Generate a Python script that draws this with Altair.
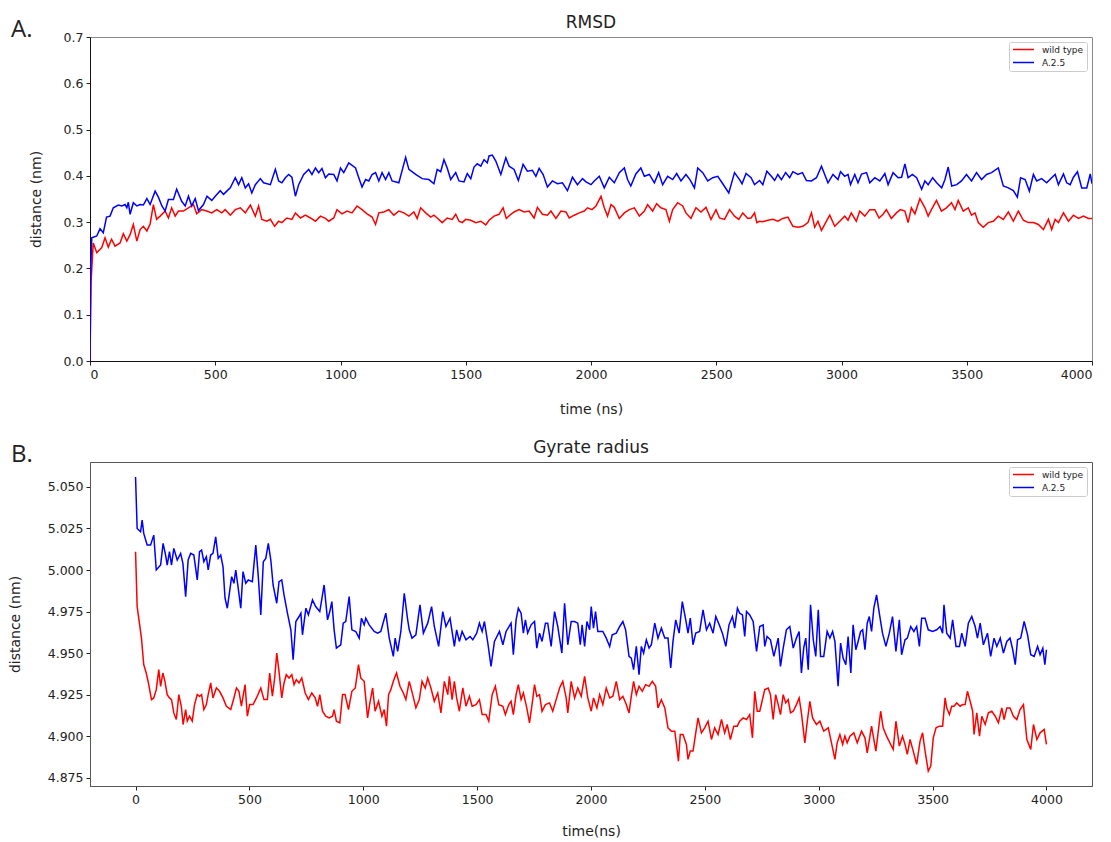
import altair as alt
import pandas as pd

SERIES = ["wild type", "A.2.5"]
COLORS = ["#ff0000", "#0000ff"]
PANEL_LABELS = ["A.", "B."]
PANEL_TITLES = ["RMSD", "Gyrate radius"]
X_TITLES = ["time (ns)", "time(ns)"]
Y_TITLE = "distance (nm)"
X_TICKS = [0, 500, 1000, 1500, 2000, 2500, 3000, 3500, 4000]
A_Y_TICKS = [0.0, 0.1, 0.2, 0.3, 0.4, 0.5, 0.6, 0.7]
B_Y_TICKS = [4.875, 4.900, 4.925, 4.950, 4.975, 5.000, 5.025, 5.050]

# RMSD, wild type: (time ns, distance nm)
RMSD_WT = [
    (0, 0.0), (4, 0.17), (13, 0.255), (27, 0.234), (47, 0.245), (60, 0.266), (73, 0.246), (86, 0.263),
    (100, 0.248), (120, 0.255), (133, 0.275), (147, 0.259), (160, 0.273), (173, 0.295), (187, 0.259),
    (200, 0.284), (213, 0.291), (227, 0.281), (240, 0.296), (253, 0.338), (266, 0.306), (280, 0.313),
    (300, 0.324), (313, 0.309), (326, 0.331), (340, 0.313), (353, 0.324), (373, 0.324), (393, 0.331),
    (413, 0.338), (426, 0.318), (446, 0.327), (466, 0.324), (486, 0.320), (506, 0.327), (526, 0.320),
    (540, 0.327), (560, 0.315), (580, 0.327), (600, 0.331), (620, 0.320), (640, 0.337), (660, 0.313),
    (673, 0.335), (686, 0.306), (706, 0.302), (720, 0.306), (737, 0.291), (753, 0.302), (766, 0.299),
    (786, 0.309), (806, 0.306), (820, 0.320), (840, 0.309), (860, 0.315), (880, 0.309), (900, 0.302),
    (920, 0.313), (940, 0.308), (953, 0.302), (973, 0.309), (986, 0.327), (1006, 0.318), (1026, 0.324),
    (1046, 0.320), (1066, 0.335), (1086, 0.327), (1106, 0.318), (1126, 0.311), (1140, 0.295),
    (1153, 0.320), (1173, 0.322), (1193, 0.327), (1213, 0.315), (1233, 0.324), (1253, 0.320),
    (1273, 0.313), (1293, 0.322), (1306, 0.308), (1320, 0.331), (1340, 0.320), (1360, 0.311),
    (1373, 0.315), (1386, 0.309), (1406, 0.299), (1426, 0.309), (1446, 0.306), (1460, 0.317),
    (1473, 0.302), (1486, 0.299), (1500, 0.306), (1520, 0.304), (1540, 0.299), (1560, 0.302),
    (1580, 0.294), (1593, 0.304), (1613, 0.313), (1633, 0.317), (1649, 0.331), (1662, 0.308),
    (1680, 0.317), (1693, 0.322), (1713, 0.327), (1733, 0.322), (1753, 0.324), (1773, 0.309),
    (1786, 0.332), (1806, 0.317), (1826, 0.315), (1840, 0.324), (1860, 0.308), (1880, 0.324),
    (1900, 0.322), (1913, 0.309), (1933, 0.315), (1953, 0.320), (1973, 0.324), (1986, 0.331),
    (2004, 0.327), (2020, 0.335), (2040, 0.356), (2053, 0.331), (2066, 0.313), (2080, 0.338),
    (2093, 0.332), (2113, 0.308), (2133, 0.320), (2153, 0.327), (2173, 0.331), (2193, 0.313),
    (2213, 0.324), (2226, 0.338), (2246, 0.324), (2262, 0.340), (2279, 0.331), (2299, 0.327),
    (2313, 0.302), (2326, 0.327), (2346, 0.342), (2366, 0.335), (2379, 0.320), (2399, 0.308),
    (2419, 0.331), (2439, 0.322), (2459, 0.332), (2479, 0.306), (2499, 0.327), (2513, 0.309),
    (2533, 0.306), (2553, 0.327), (2573, 0.313), (2590, 0.306), (2606, 0.320), (2626, 0.308),
    (2639, 0.309), (2653, 0.320), (2662, 0.299), (2673, 0.302), (2686, 0.301), (2706, 0.304),
    (2726, 0.306), (2746, 0.302), (2766, 0.308), (2786, 0.311), (2806, 0.291), (2826, 0.289),
    (2846, 0.291), (2866, 0.299), (2880, 0.320), (2893, 0.289), (2906, 0.302), (2920, 0.282),
    (2940, 0.302), (2953, 0.315), (2973, 0.291), (2993, 0.302), (3013, 0.313), (3026, 0.304),
    (3039, 0.320), (3059, 0.302), (3073, 0.324), (3093, 0.313), (3113, 0.327), (3133, 0.327),
    (3150, 0.309), (3166, 0.317), (3179, 0.327), (3199, 0.308), (3219, 0.320), (3235, 0.327),
    (3253, 0.324), (3266, 0.299), (3279, 0.331), (3293, 0.318), (3313, 0.351), (3333, 0.331),
    (3346, 0.313), (3359, 0.327), (3379, 0.347), (3399, 0.324), (3419, 0.331), (3439, 0.342),
    (3453, 0.327), (3466, 0.347), (3486, 0.324), (3506, 0.331), (3519, 0.315), (3533, 0.320),
    (3546, 0.299), (3566, 0.289), (3586, 0.299), (3606, 0.302), (3626, 0.313), (3646, 0.306),
    (3666, 0.322), (3686, 0.302), (3706, 0.324), (3726, 0.304), (3746, 0.299), (3766, 0.299),
    (3786, 0.295), (3806, 0.284), (3826, 0.306), (3839, 0.284), (3853, 0.306), (3866, 0.299),
    (3886, 0.320), (3906, 0.302), (3926, 0.315), (3946, 0.308), (3966, 0.313), (3986, 0.308),
    (4000, 0.308),
]

# RMSD, A.2.5
RMSD_MUT = [
    (0, 0.0), (3, 0.20), (7, 0.266), (27, 0.270), (40, 0.286), (53, 0.277), (66, 0.311), (80, 0.313),
    (93, 0.331), (113, 0.337), (127, 0.335), (140, 0.338), (147, 0.331), (153, 0.343), (160, 0.317),
    (173, 0.342), (187, 0.335), (200, 0.338), (213, 0.337), (227, 0.351), (240, 0.338), (260, 0.367),
    (273, 0.354), (287, 0.335), (300, 0.324), (313, 0.349), (333, 0.349), (346, 0.371), (366, 0.345),
    (380, 0.335), (393, 0.356), (406, 0.335), (420, 0.351), (433, 0.325), (453, 0.338), (467, 0.356),
    (486, 0.347), (500, 0.356), (520, 0.368), (533, 0.360), (546, 0.367), (560, 0.374), (580, 0.396),
    (593, 0.381), (606, 0.396), (620, 0.374), (633, 0.383), (646, 0.363), (660, 0.381), (680, 0.394),
    (693, 0.385), (720, 0.381), (740, 0.414), (753, 0.389), (766, 0.385), (780, 0.396), (793, 0.403),
    (806, 0.397), (820, 0.356), (833, 0.381), (853, 0.403), (873, 0.414), (886, 0.403), (900, 0.417),
    (913, 0.407), (926, 0.416), (940, 0.396), (953, 0.404), (973, 0.403), (986, 0.389), (1000, 0.417),
    (1013, 0.407), (1033, 0.428), (1060, 0.417), (1073, 0.396), (1086, 0.376), (1100, 0.392),
    (1113, 0.389), (1126, 0.403), (1140, 0.407), (1153, 0.389), (1166, 0.407), (1180, 0.392),
    (1193, 0.407), (1206, 0.389), (1233, 0.385), (1260, 0.440), (1273, 0.414), (1300, 0.403),
    (1326, 0.394), (1353, 0.392), (1373, 0.383), (1386, 0.414), (1400, 0.409), (1413, 0.435),
    (1426, 0.417), (1440, 0.392), (1460, 0.407), (1473, 0.389), (1493, 0.387), (1506, 0.405),
    (1520, 0.394), (1533, 0.419), (1546, 0.426), (1560, 0.421), (1573, 0.435), (1586, 0.428),
    (1593, 0.443), (1606, 0.445), (1620, 0.432), (1640, 0.403), (1660, 0.439), (1673, 0.421),
    (1693, 0.414), (1710, 0.390), (1729, 0.425), (1746, 0.410), (1766, 0.412), (1780, 0.399),
    (1793, 0.416), (1809, 0.403), (1826, 0.376), (1846, 0.389), (1866, 0.383), (1886, 0.385),
    (1906, 0.368), (1926, 0.397), (1946, 0.381), (1966, 0.394), (1980, 0.387), (2000, 0.381),
    (2013, 0.389), (2033, 0.399), (2053, 0.374), (2073, 0.397), (2093, 0.385), (2113, 0.407),
    (2133, 0.417), (2146, 0.392), (2159, 0.378), (2179, 0.404), (2199, 0.417), (2213, 0.399),
    (2233, 0.403), (2253, 0.385), (2270, 0.407), (2286, 0.381), (2306, 0.399), (2326, 0.392),
    (2342, 0.405), (2359, 0.389), (2379, 0.403), (2395, 0.392), (2413, 0.374), (2426, 0.417),
    (2446, 0.407), (2466, 0.389), (2486, 0.396), (2506, 0.399), (2526, 0.383), (2550, 0.363),
    (2573, 0.407), (2593, 0.392), (2603, 0.383), (2619, 0.405), (2639, 0.396), (2653, 0.381),
    (2673, 0.390), (2686, 0.381), (2702, 0.410), (2720, 0.399), (2733, 0.390), (2746, 0.403),
    (2760, 0.392), (2777, 0.407), (2793, 0.396), (2806, 0.409), (2826, 0.403), (2844, 0.407),
    (2860, 0.390), (2880, 0.389), (2900, 0.396), (2920, 0.421), (2933, 0.403), (2946, 0.385),
    (2966, 0.403), (2986, 0.392), (2996, 0.409), (3013, 0.399), (3026, 0.403), (3036, 0.381),
    (3053, 0.403), (3066, 0.385), (3080, 0.404), (3100, 0.407), (3113, 0.385), (3133, 0.396),
    (3153, 0.389), (3173, 0.405), (3186, 0.381), (3206, 0.407), (3226, 0.396), (3240, 0.397),
    (3253, 0.426), (3266, 0.396), (3283, 0.403), (3300, 0.396), (3320, 0.371), (3333, 0.389),
    (3346, 0.381), (3364, 0.396), (3380, 0.385), (3400, 0.374), (3413, 0.392), (3426, 0.419),
    (3440, 0.378), (3460, 0.381), (3479, 0.389), (3499, 0.403), (3519, 0.389), (3539, 0.407),
    (3559, 0.392), (3579, 0.403), (3599, 0.407), (3626, 0.417), (3646, 0.378), (3666, 0.374),
    (3686, 0.368), (3702, 0.354), (3715, 0.396), (3733, 0.392), (3750, 0.367), (3766, 0.403),
    (3779, 0.389), (3799, 0.394), (3819, 0.385), (3839, 0.396), (3853, 0.403), (3866, 0.381),
    (3886, 0.404), (3899, 0.385), (3913, 0.381), (3926, 0.397), (3942, 0.409), (3959, 0.374),
    (3979, 0.374), (3993, 0.404), (4000, 0.383),
]

# Gyrate radius, wild type
GYR_WT = [
    (0, 5.011), (7, 4.978), (15, 4.970), (26, 4.959), (36, 4.943), (47, 4.938), (58, 4.931),
    (70, 4.922), (80, 4.923), (91, 4.928), (102, 4.940), (110, 4.930), (120, 4.938), (129, 4.933),
    (139, 4.925), (149, 4.923), (158, 4.922), (168, 4.914), (179, 4.910), (190, 4.925), (201, 4.918),
    (209, 4.907), (220, 4.916), (227, 4.909), (237, 4.912), (249, 4.909), (259, 4.919), (271, 4.925),
    (281, 4.924), (290, 4.925), (300, 4.916), (311, 4.919), (319, 4.925), (330, 4.932), (340, 4.923),
    (355, 4.929), (369, 4.927), (384, 4.923), (399, 4.918), (418, 4.916), (432, 4.923), (443, 4.929),
    (454, 4.927), (465, 4.918), (472, 4.924), (481, 4.931), (491, 4.912), (501, 4.919), (516, 4.919),
    (531, 4.923), (550, 4.929), (564, 4.922), (579, 4.922), (589, 4.938), (601, 4.924), (611, 4.935),
    (620, 4.950), (630, 4.939), (642, 4.923), (652, 4.932), (662, 4.937), (674, 4.935), (686, 4.937),
    (696, 4.931), (706, 4.934), (718, 4.932), (730, 4.935), (745, 4.926), (759, 4.922), (774, 4.926),
    (789, 4.923), (799, 4.918), (809, 4.925), (821, 4.915), (835, 4.912), (850, 4.911), (865, 4.912),
    (872, 4.916), (882, 4.909), (897, 4.908), (909, 4.925), (920, 4.925), (935, 4.916), (950, 4.927),
    (965, 4.929), (979, 4.943), (989, 4.935), (1004, 4.933), (1019, 4.911), (1029, 4.920),
    (1041, 4.929), (1052, 4.915), (1067, 4.921), (1082, 4.912), (1092, 4.916), (1102, 4.906),
    (1111, 4.925), (1121, 4.928), (1132, 4.933), (1146, 4.938), (1161, 4.930), (1176, 4.926),
    (1187, 4.922), (1202, 4.933), (1217, 4.925), (1231, 4.917), (1246, 4.922), (1258, 4.933),
    (1272, 4.929), (1283, 4.935), (1297, 4.929), (1312, 4.921), (1327, 4.926), (1341, 4.914),
    (1356, 4.933), (1371, 4.925), (1378, 4.936), (1390, 4.922), (1400, 4.933), (1410, 4.923),
    (1422, 4.915), (1437, 4.929), (1451, 4.918), (1466, 4.924), (1478, 4.918), (1495, 4.919),
    (1510, 4.922), (1522, 4.913), (1539, 4.913), (1551, 4.909), (1566, 4.925), (1580, 4.930),
    (1595, 4.919), (1613, 4.918), (1624, 4.913), (1639, 4.919), (1649, 4.921), (1659, 4.913),
    (1671, 4.925), (1681, 4.931), (1693, 4.922), (1703, 4.926), (1718, 4.917), (1730, 4.908),
    (1745, 4.923), (1752, 4.931), (1762, 4.924), (1774, 4.925), (1785, 4.915), (1800, 4.919),
    (1818, 4.920), (1832, 4.915), (1847, 4.922), (1862, 4.929), (1876, 4.933), (1891, 4.923),
    (1898, 4.914), (1913, 4.933), (1928, 4.923), (1942, 4.929), (1957, 4.924), (1972, 4.936),
    (1986, 4.923), (2001, 4.915), (2011, 4.923), (2026, 4.917), (2038, 4.925), (2052, 4.919),
    (2067, 4.929), (2082, 4.923), (2096, 4.924), (2111, 4.933), (2126, 4.922), (2140, 4.924),
    (2155, 4.919), (2167, 4.914), (2177, 4.924), (2187, 4.933), (2199, 4.925), (2211, 4.930),
    (2225, 4.927), (2240, 4.931), (2255, 4.930), (2269, 4.933), (2284, 4.930), (2294, 4.917),
    (2309, 4.922), (2324, 4.917), (2338, 4.905), (2353, 4.903), (2368, 4.903), (2378, 4.892),
    (2384, 4.885), (2392, 4.901), (2404, 4.901), (2419, 4.895), (2426, 4.886), (2436, 4.891),
    (2448, 4.891), (2460, 4.902), (2470, 4.911), (2485, 4.902), (2499, 4.905), (2514, 4.909),
    (2529, 4.898), (2543, 4.905), (2558, 4.901), (2573, 4.910), (2587, 4.902), (2598, 4.907),
    (2612, 4.898), (2627, 4.906), (2642, 4.906), (2653, 4.909), (2668, 4.911), (2683, 4.910),
    (2697, 4.913), (2709, 4.899), (2719, 4.927), (2730, 4.915), (2741, 4.915), (2763, 4.928),
    (2778, 4.929), (2788, 4.925), (2800, 4.910), (2811, 4.925), (2822, 4.919), (2832, 4.913),
    (2844, 4.925), (2855, 4.920), (2866, 4.922), (2876, 4.914), (2888, 4.915), (2902, 4.919),
    (2914, 4.923), (2924, 4.914), (2939, 4.896), (2949, 4.908), (2961, 4.921), (2973, 4.911),
    (2990, 4.907), (3005, 4.909), (3022, 4.903), (3042, 4.905), (3056, 4.896), (3071, 4.886),
    (3081, 4.896), (3093, 4.901), (3105, 4.895), (3115, 4.900), (3125, 4.896), (3137, 4.900),
    (3154, 4.902), (3169, 4.896), (3188, 4.903), (3203, 4.899), (3213, 4.890), (3232, 4.906),
    (3251, 4.891), (3272, 4.915), (3283, 4.905), (3298, 4.900), (3316, 4.895), (3327, 4.892),
    (3339, 4.909), (3354, 4.894), (3368, 4.900), (3379, 4.895), (3389, 4.889), (3401, 4.898),
    (3415, 4.891), (3430, 4.883), (3445, 4.897), (3456, 4.902), (3467, 4.891), (3481, 4.879),
    (3492, 4.882), (3503, 4.899), (3515, 4.905), (3530, 4.906), (3544, 4.906), (3555, 4.923),
    (3562, 4.917), (3574, 4.913), (3584, 4.918), (3594, 4.918), (3606, 4.920), (3621, 4.918),
    (3632, 4.919), (3643, 4.919), (3653, 4.927), (3665, 4.921), (3676, 4.915), (3682, 4.901),
    (3694, 4.914), (3706, 4.900), (3716, 4.912), (3731, 4.907), (3745, 4.914), (3760, 4.915),
    (3775, 4.912), (3789, 4.908), (3804, 4.917), (3814, 4.910), (3826, 4.917), (3840, 4.917),
    (3855, 4.912), (3870, 4.910), (3884, 4.916), (3899, 4.919), (3914, 4.898), (3931, 4.892),
    (3943, 4.907), (3958, 4.898), (3972, 4.902), (3990, 4.904), (4000, 4.895),
]

# Gyrate radius, A.2.5
GYR_MUT = [
    (0, 5.056), (7, 5.025), (22, 5.023), (29, 5.030), (36, 5.022), (51, 5.015), (66, 5.015),
    (80, 5.021), (91, 5.000), (110, 5.003), (121, 5.016), (132, 5.009), (139, 5.003), (149, 5.011),
    (158, 5.003), (168, 5.013), (183, 5.006), (198, 5.010), (208, 5.004), (220, 4.984), (231, 5.006),
    (242, 5.010), (256, 5.009), (271, 4.994), (281, 5.011), (290, 5.012), (300, 5.005), (311, 5.008),
    (319, 5.000), (330, 5.009), (340, 5.010), (352, 5.020), (363, 5.007), (374, 5.009), (384, 5.002),
    (393, 4.983), (403, 4.977), (413, 4.987), (422, 4.996), (432, 4.992), (440, 5.000), (450, 4.990),
    (462, 4.977), (472, 4.999), (484, 4.992), (495, 4.994), (513, 4.993), (528, 5.015), (539, 4.996),
    (550, 4.973), (561, 5.005), (572, 5.007), (583, 5.016), (594, 5.006), (604, 4.991), (620, 4.980),
    (630, 4.993), (642, 4.994), (652, 4.985), (667, 4.974), (682, 4.964), (692, 4.946), (704, 4.969),
    (718, 4.972), (726, 4.974), (733, 4.961), (748, 4.977), (759, 4.973), (777, 4.982), (791, 4.978),
    (809, 4.975), (828, 4.991), (843, 4.970), (853, 4.975), (862, 4.981), (872, 4.964), (882, 4.953),
    (901, 4.955), (912, 4.968), (923, 4.969), (938, 4.984), (950, 4.964), (967, 4.963), (982, 4.959),
    (992, 4.971), (1004, 4.967), (1011, 4.971), (1026, 4.967), (1048, 4.963), (1063, 4.962),
    (1077, 4.963), (1099, 4.974), (1114, 4.959), (1132, 4.948), (1140, 4.959), (1151, 4.951),
    (1165, 4.963), (1180, 4.986), (1195, 4.970), (1202, 4.964), (1214, 4.959), (1231, 4.961),
    (1249, 4.979), (1264, 4.962), (1283, 4.968), (1300, 4.978), (1312, 4.966), (1331, 4.954),
    (1349, 4.975), (1363, 4.966), (1381, 4.971), (1400, 4.954), (1410, 4.964), (1422, 4.957),
    (1434, 4.963), (1451, 4.958), (1469, 4.960), (1481, 4.958), (1498, 4.962), (1510, 4.968),
    (1522, 4.963), (1532, 4.969), (1547, 4.956), (1561, 4.942), (1576, 4.957), (1598, 4.963),
    (1613, 4.955), (1627, 4.963), (1649, 4.968), (1659, 4.949), (1671, 4.970), (1681, 4.977),
    (1693, 4.974), (1703, 4.962), (1712, 4.970), (1722, 4.962), (1737, 4.967), (1752, 4.969),
    (1762, 4.953), (1774, 4.962), (1785, 4.957), (1800, 4.968), (1810, 4.968), (1825, 4.954),
    (1840, 4.975), (1854, 4.966), (1872, 4.950), (1884, 4.980), (1898, 4.955), (1913, 4.969),
    (1928, 4.969), (1942, 4.968), (1953, 4.955), (1961, 4.967), (1972, 4.954), (1982, 4.969),
    (1994, 4.964), (2001, 4.978), (2011, 4.965), (2020, 4.975), (2030, 4.963), (2052, 4.963),
    (2067, 4.959), (2082, 4.954), (2093, 4.961), (2111, 4.962), (2126, 4.966), (2140, 4.969),
    (2152, 4.964), (2167, 4.948), (2177, 4.947), (2187, 4.940), (2199, 4.954), (2211, 4.937),
    (2221, 4.954), (2231, 4.950), (2243, 4.958), (2255, 4.953), (2265, 4.955), (2280, 4.968),
    (2294, 4.959), (2309, 4.965), (2324, 4.959), (2338, 4.959), (2350, 4.941), (2360, 4.957),
    (2372, 4.970), (2387, 4.962), (2401, 4.981), (2416, 4.970), (2426, 4.962), (2436, 4.971),
    (2448, 4.955), (2460, 4.962), (2477, 4.963), (2492, 4.976), (2507, 4.964), (2521, 4.968),
    (2536, 4.962), (2548, 4.972), (2563, 4.967), (2577, 4.962), (2592, 4.954), (2606, 4.967),
    (2621, 4.972), (2631, 4.965), (2643, 4.977), (2653, 4.974), (2665, 4.973), (2675, 4.960),
    (2683, 4.975), (2697, 4.973), (2712, 4.969), (2727, 4.951), (2741, 4.966), (2756, 4.967),
    (2763, 4.954), (2773, 4.960), (2788, 4.958), (2803, 4.948), (2822, 4.959), (2832, 4.942),
    (2844, 4.953), (2858, 4.964), (2873, 4.966), (2888, 4.953), (2902, 4.959), (2914, 4.963),
    (2924, 4.938), (2934, 4.953), (2943, 4.959), (2954, 4.940), (2964, 4.979), (2976, 4.958),
    (2987, 4.948), (2998, 4.976), (3008, 4.948), (3022, 4.948), (3037, 4.963), (3049, 4.959),
    (3061, 4.963), (3071, 4.957), (3085, 4.930), (3096, 4.956), (3107, 4.947), (3119, 4.943),
    (3129, 4.960), (3141, 4.938), (3151, 4.967), (3163, 4.952), (3173, 4.957), (3184, 4.963),
    (3193, 4.964), (3203, 4.952), (3213, 4.968), (3222, 4.972), (3232, 4.963), (3242, 4.977),
    (3254, 4.985), (3266, 4.974), (3280, 4.962), (3295, 4.954), (3310, 4.962), (3324, 4.972),
    (3339, 4.951), (3354, 4.970), (3364, 4.949), (3379, 4.958), (3389, 4.959), (3404, 4.966),
    (3418, 4.963), (3430, 4.966), (3442, 4.954), (3452, 4.971), (3467, 4.971), (3481, 4.964),
    (3500, 4.963), (3518, 4.964), (3533, 4.966), (3544, 4.962), (3550, 4.979), (3562, 4.962),
    (3577, 4.959), (3588, 4.970), (3603, 4.954), (3618, 4.954), (3628, 4.962), (3643, 4.954),
    (3657, 4.968), (3672, 4.972), (3687, 4.966), (3697, 4.959), (3709, 4.968), (3723, 4.955),
    (3741, 4.962), (3755, 4.948), (3770, 4.959), (3782, 4.954), (3797, 4.959), (3811, 4.950),
    (3826, 4.957), (3840, 4.959), (3852, 4.952), (3863, 4.943), (3873, 4.958), (3887, 4.959),
    (3902, 4.969), (3917, 4.961), (3931, 4.949), (3946, 4.948), (3961, 4.954), (3972, 4.949),
    (3984, 4.953), (3993, 4.943), (4000, 4.952),
]


def frame(wt, mut):
    rows = [{"t": t, "v": v, "series": SERIES[0]} for t, v in wt]
    rows += [{"t": t, "v": v, "series": SERIES[1]} for t, v in mut]
    return pd.DataFrame(rows)


FONT = "DejaVu Sans"


def panel(df, idx, xdomain, ydomain, yticks, yfmt, domain_color, frame_color, xpad, ypad):
    lines = alt.Chart(df).mark_line(strokeWidth=1.5, clip=True).encode(
        x=alt.X(
            "t:Q",
            scale=alt.Scale(domain=xdomain, nice=False, zero=False),
            axis=alt.Axis(title=X_TITLES[idx], values=X_TICKS, format="d",
                          domainColor=domain_color, titlePadding=xpad),
        ),
        y=alt.Y(
            "v:Q",
            scale=alt.Scale(domain=ydomain, nice=False, zero=False),
            axis=alt.Axis(title=Y_TITLE, values=yticks, format=yfmt,
                          domainColor=domain_color, titlePadding=ypad),
        ),
        color=alt.Color(
            "series:N",
            scale=alt.Scale(domain=SERIES, range=COLORS),
            legend=alt.Legend(
                title=None, orient="top-right", offset=5,
                fillColor="white", strokeColor="#cccccc", cornerRadius=2,
                padding=3, labelFont=FONT, labelFontSize=9, labelColor="#222222",
                symbolType="M-3,0H3", symbolSize=49, symbolStrokeWidth=1.5,
                symbolFillColor="transparent", symbolOffset=7,
                rowPadding=3, labelOffset=14,
            ),
        ),
    )
    label = alt.Chart(pd.DataFrame({"label": [PANEL_LABELS[idx]]})).mark_text(
        font="Open Sans", fontSize=24, align="left", baseline="top", color="#222222"
    ).encode(x=alt.value(-79), y=alt.value(-19), text="label:N")
    return alt.layer(lines, label).properties(
        width=1002, height=324,
        title=alt.TitleParams(PANEL_TITLES[idx], font=FONT, fontSize=17,
                              fontWeight="normal", color="#222222", anchor="middle", offset=-14),
        view=alt.ViewBackground(stroke=frame_color, strokeWidth=1),
    )


top = panel(frame(RMSD_WT, RMSD_MUT), 0, [0, 4000], [0.0, 0.7], A_Y_TICKS, ".1f",
            "#111111", "#888888", 22, 20)
bottom = panel(frame(GYR_WT, GYR_MUT), 1, [-200, 4200], [4.870, 5.065], B_Y_TICKS, ".3f",
               "#555555", "#555555", 19, 25)

chart = alt.vconcat(top, bottom, spacing=21).resolve_scale(color="independent").resolve_legend(
    color="independent"
).properties(
    padding={"left": 7, "top": 13, "right": 5, "bottom": 0}
).configure_axis(
    labelFont=FONT, labelFontSize=12.5, labelColor="#222222",
    titleFont=FONT, titleFontSize=14, titleFontWeight="normal", titleColor="#222222",
    tickSize=4, tickColor="#222222", grid=False, labelPadding=3,
).configure_view(strokeWidth=1)

chart.save("out.html", embed_options={"renderer": "svg", "actions": False})
